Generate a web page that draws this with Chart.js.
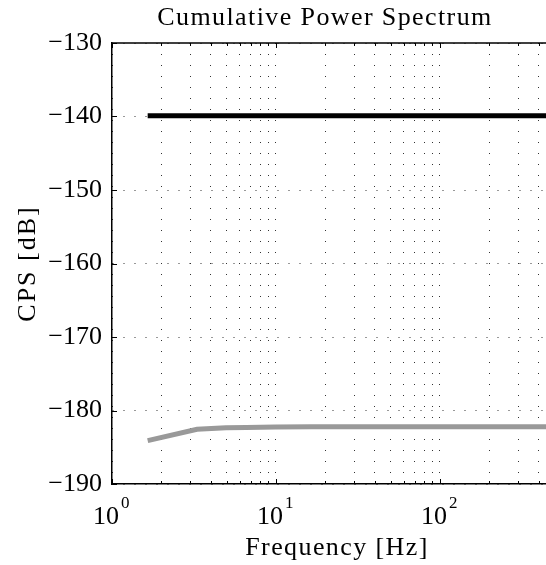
<!DOCTYPE html>
<html>
<head>
<meta charset="utf-8">
<script src="https://cdn.jsdelivr.net/npm/chart.js@4.4.0/dist/chart.umd.min.js"></script>
<style>
  html, body { margin:0; padding:0; background:#fff; }
  canvas { display:block; }
</style>
</head>
<body>
<canvas id="cps" width="546" height="565"></canvas>
<script>
// frequency bins [Hz] and cumulative power spectrum [dB]
const freqs = [1.65, 3.3, 4.95, 6.6, 9.9, 16.5, 33, 66, 165, 443];
const cpsTotal = [-139.9, -139.9, -139.9, -139.9, -139.9, -139.9, -139.9, -139.9, -139.9, -139.9];
const cpsResidual = [-184.1, -182.55, -182.35, -182.3, -182.25, -182.2, -182.2, -182.2, -182.2, -182.2];
const yTicks = [-190, -180, -170, -160, -150, -140, -130];
const xMajor = [1, 10, 100];

const serif = '"Liberation Serif", "Times New Roman", serif';

function logTicks(min, max) {
  const out = [];
  for (let d = 1; d <= max; d *= 10)
    for (let k = 1; k < 10; k++) {
      const v = k * d;
      if (v >= min && v <= max) out.push({ value: v });
    }
  return out;
}

const decor = {
  id: 'decor',
  afterDraw(chart) {
    const { ctx, chartArea: a, scales: { x, y } } = chart;
    ctx.save();
    // top box edge
    ctx.strokeStyle = '#000';
    ctx.lineWidth = 1.5;
    ctx.beginPath();
    ctx.moveTo(a.left, a.top);
    ctx.lineTo(a.right, a.top);
    ctx.stroke();
    // inner ticks
    ctx.lineWidth = 1;
    x.ticks.forEach(t => {
      const px = Math.round(x.getPixelForValue(t.value)) + 0.5;
      const len = xMajor.includes(t.value) ? 5 : 3;
      ctx.beginPath();
      ctx.moveTo(px, a.bottom); ctx.lineTo(px, a.bottom - len);
      ctx.moveTo(px, a.top); ctx.lineTo(px, a.top + len);
      ctx.stroke();
    });
    yTicks.forEach(v => {
      const py = Math.round(y.getPixelForValue(v)) + 0.5;
      ctx.beginPath();
      ctx.moveTo(a.left, py); ctx.lineTo(a.left + 5, py);
      ctx.stroke();
    });
    // x tick labels with exponents
    ctx.fillStyle = '#000';
    ctx.textBaseline = 'alphabetic';
    xMajor.forEach((v, i) => {
      const px = x.getPixelForValue(v);
      ctx.font = '26px ' + serif;
      ctx.textAlign = 'right';
      ctx.fillText('10', px + 7, 524);
      ctx.font = '17px ' + serif;
      ctx.textAlign = 'left';
      ctx.fillText(String(i), px + 9, 508);
    });
    // title and axis labels
    ctx.font = '26px ' + serif;
    ctx.letterSpacing = '1.4px';
    ctx.textAlign = 'center';
    ctx.fillText('Cumulative Power Spectrum', (a.left + a.right) / 2 - 4, 25);
    ctx.fillText('Frequency [Hz]', (a.left + a.right) / 2 + 8, 555);
    ctx.letterSpacing = '2px';
    ctx.translate(35, (a.top + a.bottom) / 2);
    ctx.rotate(-Math.PI / 2);
    ctx.fillText('CPS [dB]', 0, 0);
    ctx.restore();
  }
};

new Chart(document.getElementById('cps'), {
  type: 'line',
  data: {
    datasets: [
      { label: 'total', data: freqs.map((f, i) => ({ x: f, y: cpsTotal[i] })),
        borderColor: '#000', borderWidth: 5, pointRadius: 0, tension: 0 },
      { label: 'residual', data: freqs.map((f, i) => ({ x: f, y: cpsResidual[i] })),
        borderColor: '#999', borderWidth: 5, pointRadius: 0, tension: 0 }
    ]
  },
  options: {
    responsive: false,
    animation: false,
    devicePixelRatio: 1,
    layout: { padding: { top: 43, left: 0, right: 0, bottom: 0 } },
    plugins: { legend: { display: false }, title: { display: false }, tooltip: { enabled: false } },
    scales: {
      x: {
        type: 'logarithmic', min: 1, max: 443,
        afterBuildTicks: s => { s.ticks = logTicks(1, 443); },
        afterFit: s => { s.height = 81; },
        ticks: { autoSkip: false, callback: () => '' },
        grid: { color: '#333', lineWidth: 1, drawTicks: false },
        border: { display: true, color: '#000', width: 1.5, dash: [1, 10] }
      },
      y: {
        min: -190, max: -130,
        afterBuildTicks: s => { s.ticks = yTicks.map(v => ({ value: v })); },
        afterFit: s => { s.width = 112; },
        ticks: { color: '#000', padding: 10, font: { family: serif, size: 26 },
                 callback: v => '\u2212' + Math.abs(v) },
        grid: { color: '#333', lineWidth: 1, drawTicks: false },
        border: { display: true, color: '#000', width: 1.5, dash: [1, 10] }
      }
    }
  },
  plugins: [decor]
});
</script>
</body>
</html>
